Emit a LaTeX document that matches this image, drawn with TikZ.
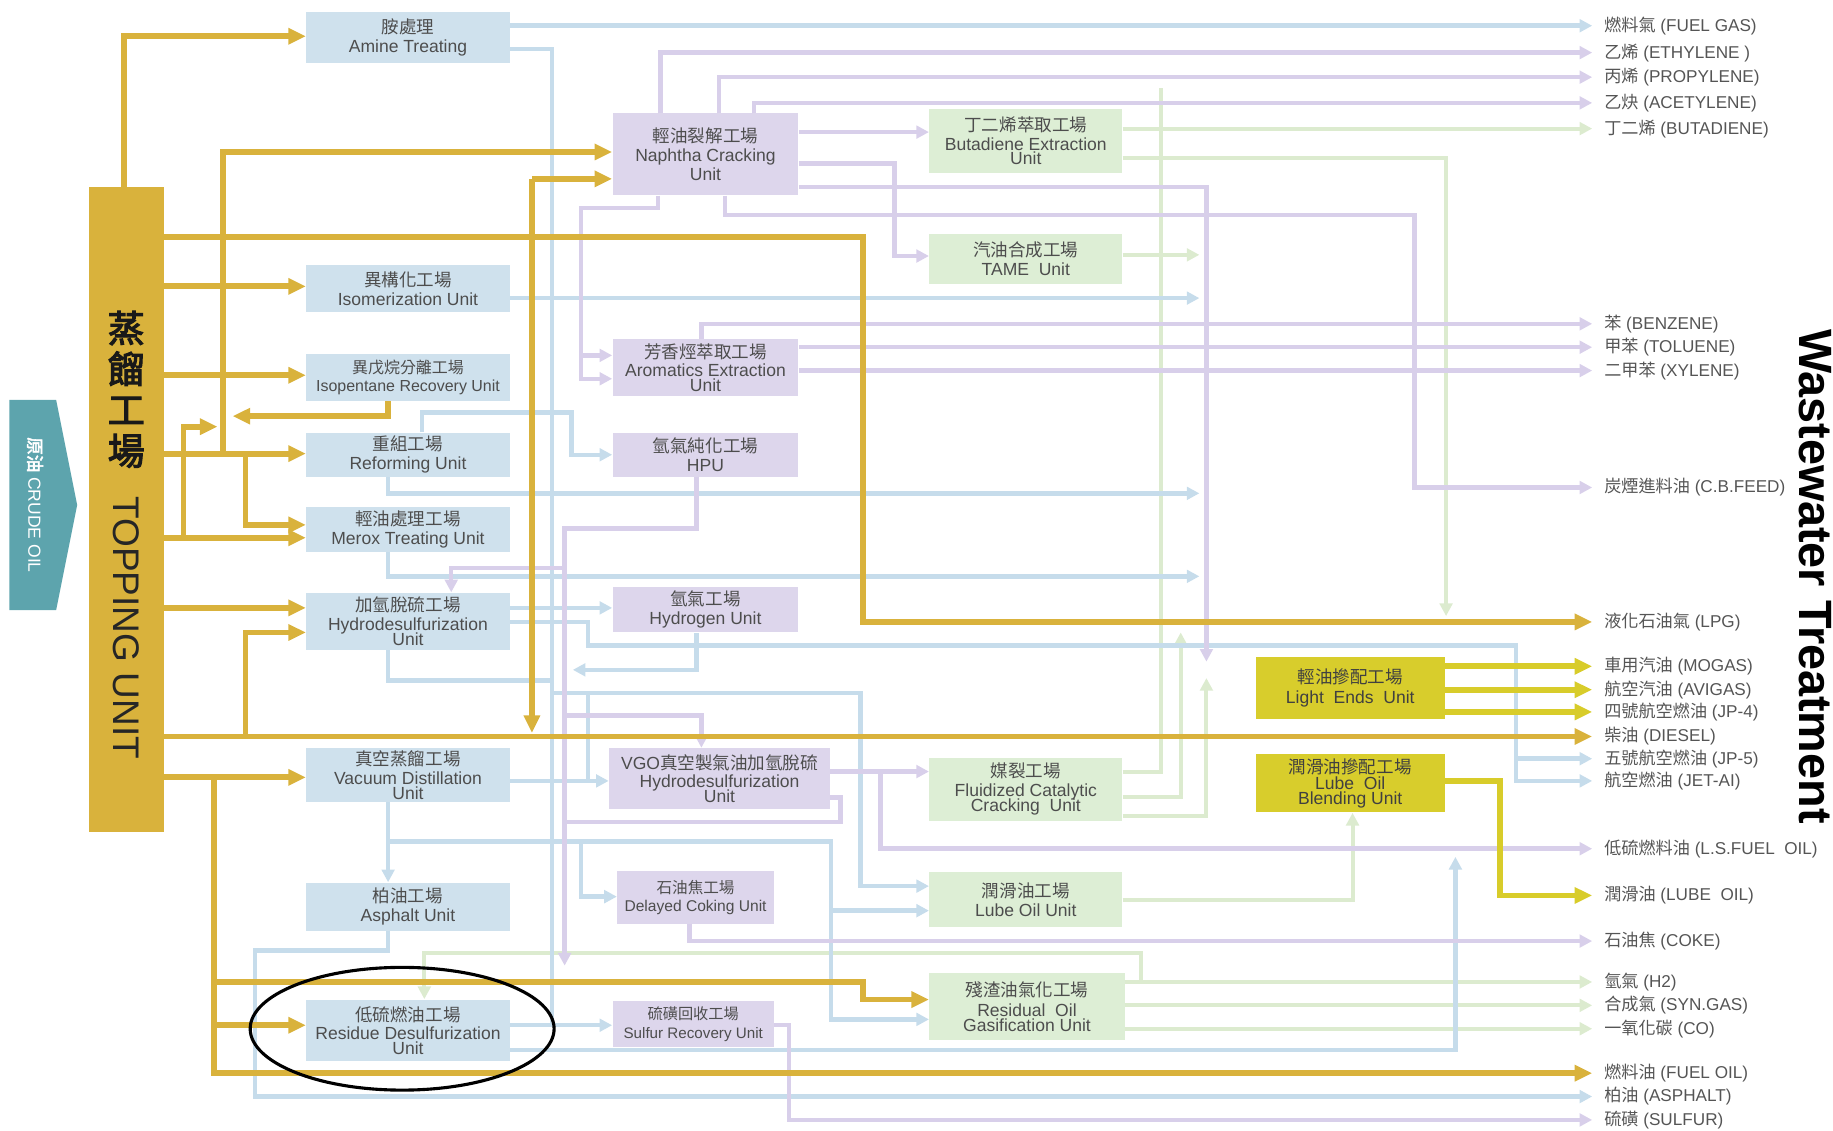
\documentclass[tikz,border=0pt]{standalone}
\usepackage{fontspec}
\setmainfont{Liberation Sans}
\newfontfamily\cj{Noto Sans CJK TC}
\newfontfamily\cjb[FakeBold=3]{Noto Sans CJK TC}
\usetikzlibrary{arrows.meta}
\definecolor{gold}{HTML}{D9B23C}
\definecolor{bluebox}{HTML}{CFE1ED}
\definecolor{purbox}{HTML}{DDD6EC}
\definecolor{grnbox}{HTML}{DDEED5}
\definecolor{ylwbox}{HTML}{D8CD2C}
\definecolor{blueln}{HTML}{C6DCEB}
\definecolor{lavln}{HTML}{D8CFEA}
\definecolor{grnln}{HTML}{DCEBCF}
\definecolor{ylwln}{HTML}{D8CC2A}
\definecolor{crudeteal}{HTML}{5DA4AD}
\definecolor{boxtxt}{HTML}{4D4D4D}
\definecolor{labtxt}{HTML}{555555}
\begin{document}
\begin{tikzpicture}[x=0.6pt,y=-0.6pt,
  box/.style={inner sep=0pt, align=center, text=boxtxt, font=\fontsize{9}{9.6}\selectfont},
  sz/.style 2 args={minimum width={#1*0.6pt}, minimum height={#2*0.6pt}},
  bb/.style={box, fill=bluebox},
  pb/.style={box, fill=purbox},
  gb/.style={box, fill=grnbox},
  yb/.style={box, fill=ylwbox, text=black!75},
  gl/.style={draw=gold, line width=3pt},
  bl/.style={draw=blueln, line width=2.3pt},
  lv/.style={draw=lavln, line width=2.3pt},
  gr/.style={draw=grnln, line width=2pt},
  yl/.style={draw=ylwln, line width=3pt},
  ga/.style={-{Triangle[length=9pt,width=8pt]}},
  la/.style={-{Triangle[length=6.5pt,width=6.5pt]}},
  lab/.style={anchor=west, inner xsep=6pt, inner ysep=0pt, text=labtxt, font=\fontsize{8.8}{9}\selectfont}]
\useasboundingbox (0,0) rectangle (1568,967);

% ---------- crude oil ----------
\fill[crudeteal] (8,342) -- (48,342) -- (66,432) -- (48,522) -- (8,522) -- cycle;
\node[rotate=-90, text=white, font=\fontsize{9}{9}\selectfont] (crude) at (30,432) {{\cjb 原油}\ CRUDE OIL};

% ---------- topping unit ----------
\node[fill=gold, sz={64}{552}, inner sep=0pt] (top) at (108,436) {};
\node[align=center, font=\fontsize{19}{21}\selectfont\cjb, text=black!90] (topcj) at (108,333) {蒸\\餾\\工\\場};
\node[rotate=-90, font=\fontsize{19}{19}\selectfont, text=black!85] (topen) at (108,537) {TOPPING UNIT};

% ---------- blue boxes ----------
\node[bb, sz={174}{44}] (amine) at (349,32) {{\cj 胺處理}\\Amine Treating};
\node[bb, sz={174}{40}] (isom) at (349,247) {{\cj 異構化工場}\\Isomerization Unit};
\node[bb, sz={174}{40}, font=\fontsize{8.2}{9.4}\selectfont] (isop) at (349,323) {{\cj 異戊烷分離工場}\\Isopentane Recovery Unit};
\node[bb, sz={174}{38}] (reform) at (349,389) {{\cj 重組工場}\\Reforming Unit};
\node[bb, sz={174}{38}] (merox) at (349,453) {{\cj 輕油處理工場}\\Merox Treating Unit};
\node[bb, sz={174}{49}] (hds) at (349,531.5) {{\cj 加氫脫硫工場}\\Hydrodesulfurization\\[-2pt]Unit};
\node[bb, sz={174}{46}] (vac) at (349,663) {{\cj 真空蒸餾工場}\\Vacuum Distillation\\[-2pt]Unit};
\node[bb, sz={174}{41}] (asph) at (349,775.5) {{\cj 柏油工場}\\Asphalt Unit};
\node[bb, sz={174}{53}] (rds) at (349,881.5) {{\cj 低硫燃油工場}\\Residue Desulfurization\\[-2pt]Unit};

% ---------- purple boxes ----------
\node[pb, sz={159}{70}] (naph) at (603.5,132) {{\cj 輕油裂解工場}\\Naphtha Cracking\\Unit};
\node[pb, sz={159}{49}] (arom) at (603.5,314.5) {{\cj 芳香烴萃取工場}\\Aromatics Extraction\\[-2pt]Unit};
\node[pb, sz={159}{38}] (hpu) at (603.5,389) {{\cj 氫氣純化工場}\\HPU};
\node[pb, sz={159}{39}] (h2u) at (603.5,521.5) {{\cj 氫氣工場}\\Hydrogen Unit};
\node[pb, sz={189}{52}] (vgo) at (615.5,666) {VGO{\cj 真空製氣油加氫脫硫}\\Hydrodesulfurization\\[-2pt]Unit};
\node[pb, sz={134}{45}, font=\fontsize{8}{9.4}\selectfont] (dcu) at (595,767.5) {{\cj 石油焦工場}\\Delayed Coking Unit};
\node[pb, sz={138}{40}, font=\fontsize{7.8}{9.4}\selectfont] (sru) at (593,876) {{\cj 硫磺回收工場}\\Sulfur Recovery Unit};

% ---------- green boxes ----------
\node[gb, sz={165}{55}] (bde) at (877.5,120.5) {{\cj 丁二烯萃取工場}\\Butadiene Extraction\\[-2pt]Unit};
\node[gb, sz={165}{43}] (tame) at (877.5,221.5) {{\cj 汽油合成工場}\\TAME\ \ Unit};
\node[gb, sz={165}{54}] (fcc) at (877.5,675) {{\cj 媒裂工場}\\Fluidized Catalytic\\[-2pt]Cracking\ \ Unit};
\node[gb, sz={165}{47}] (lube) at (877.5,769.5) {{\cj 潤滑油工場}\\Lube Oil Unit};
\node[gb, sz={167}{58}] (rog) at (878.5,861) {{\cj 殘渣油氣化工場}\\[1pt]Residual\ \ Oil\\[-2pt]Gasification Unit};

% ---------- yellow boxes ----------
\node[yb, sz={162}{53}] (le) at (1155,588.5) {{\cj 輕油摻配工場}\\[1pt]Light\ \ Ends\ \ Unit};
\node[yb, sz={162}{50}] (lob) at (1155,670) {{\cj 潤滑油摻配工場}\\[-1pt]Lube\ \ Oil\\[-2pt]Blending Unit};

% ---------- product labels ----------
\node[lab] (fuelgas) at (1362,22) {{\cj 燃料氣} (FUEL GAS)};
\node[lab] (ethylene) at (1362,45) {{\cj 乙烯} (ETHYLENE )};
\node[lab] (propylene) at (1362,66) {{\cj 丙烯} (PROPYLENE)};
\node[lab] (acetylene) at (1362,88) {{\cj 乙炔} (ACETYLENE)};
\node[lab] (butadiene) at (1362,110) {{\cj 丁二烯} (BUTADIENE)};
\node[lab] (benzene) at (1362,277) {{\cj 苯} (BENZENE)};
\node[lab] (toluene) at (1362,297) {{\cj 甲苯} (TOLUENE)};
\node[lab] (xylene) at (1362,317) {{\cj 二甲苯} (XYLENE)};
\node[lab] (cbfeed) at (1362,417) {{\cj 炭煙進料油} (C.B.FEED)};
\node[lab] (lpg) at (1362,532) {{\cj 液化石油氣} (LPG)};
\node[lab] (mogas) at (1362,570) {{\cj 車用汽油} (MOGAS)};
\node[lab] (avigas) at (1362,590) {{\cj 航空汽油} (AVIGAS)};
\node[lab] (jp4) at (1362,609) {{\cj 四號航空燃油} (JP-4)};
\node[lab] (diesel) at (1362,630) {{\cj 柴油} (DIESEL)};
\node[lab] (jp5) at (1362,649) {{\cj 五號航空燃油} (JP-5)};
\node[lab] (jetai) at (1362,668) {{\cj 航空燃油} (JET-AI)};
\node[lab] (lsfuel) at (1362,726) {{\cj 低硫燃料油} (L.S.FUEL\ \ OIL)};
\node[lab] (lubeoil) at (1362,766) {{\cj 潤滑油} (LUBE\ \ OIL)};
\node[lab] (coke) at (1362,805) {{\cj 石油焦} (COKE)};
\node[lab] (h2) at (1362,840) {{\cj 氫氣} (H2)};
\node[lab] (syngas) at (1362,860) {{\cj 合成氣} (SYN.GAS)};
\node[lab] (co) at (1362,880) {{\cj 一氧化碳} (CO)};
\node[lab] (fueloil) at (1362,918) {{\cj 燃料油} (FUEL OIL)};
\node[lab] (asphalt) at (1362,938) {{\cj 柏油} (ASPHALT)};
\node[lab] (sulfur) at (1362,958) {{\cj 硫磺} (SULFUR)};

\node[rotate=-90, font=\bfseries\fontsize{24}{24}\selectfont] (wwt) at (1553,493) {Wastewater Treatment};

% ---------- green lines ----------
\draw[gr,la] (bde.east |- 0,110) -- (butadiene.west);
\draw[gr,la] (bde.east |- 0,135) -- (1237,135) -- (1237,527);
\draw[gr,la] (tame.east |- 0,218) -- (1026,218);
\draw[gr] (fcc.east |- 0,660) -- (993,660) -- (993,75);
\draw[gr,la] (fcc.east |- 0,682) -- (1010,682) -- (1010,541);
\draw[gr,la] (fcc.east |- 0,698) -- (1032,698) -- (1032,580);
\draw[gr,la] (lube.east |- 0,770) -- (1157,770) -- (lob.south -| 1157,0);
\draw[gr,la] (rog.east |- 0,840) -- (h2.west);
\draw[gr,la] (rog.east |- 0,860) -- (syngas.west);
\draw[gr,la] (rog.east |- 0,880) -- (co.west);
\draw[gr,la] (976,840) -- (976,815) -- (363,815) -- (rds.north -| 363,0);

% ---------- blue lines ----------
\draw[bl,la] (amine.east |- 0,22) -- (fuelgas.west);
\draw[bl] (amine.east |- 0,42) -- (472,42) -- (472,877);
\draw[bl,la] (isom.east |- 0,255) -- (1026,255);
\draw[bl,la] (reform.north -| 361,0) -- (361,353) -- (489,353) -- (489,389) -- (hpu.west |- 0,389);
\draw[bl,la] (reform.south -| 332,0) -- (332,422) -- (1026,422);
\draw[bl,la] (merox.south -| 332,0) -- (332,493) -- (1026,493);
\draw[bl,la] (hds.east |- 0,520) -- (h2u.west |- 0,520);
\draw[bl,la] (hds.east |- 0,532) -- (503,532) -- (503,552) -- (1297,552) -- (1297,668) -- (jetai.west);
\draw[bl,la] (1297,649) -- (jp5.west);
\draw[bl] (hds.south -| 332,0) -- (332,582) -- (472,582);
\draw[bl,la] (h2u.south -| 596,0) -- (596,573) -- (490,573);
\draw[bl,la] (472,593) -- (736,593) -- (736,758) -- (lube.west |- 0,758);
\draw[bl] (503,593) -- (503,668);
\draw[bl,la] (vac.east |- 0,668) -- (vgo.west |- 0,668);
\draw[bl,la] (vac.south -| 332,0) -- (asph.north -| 332,0);
\draw[bl,la] (332,720) -- (711,720) -- (711,872) -- (rog.west |- 0,872);
\draw[bl,la] (711,779) -- (lube.west |- 0,779);
\draw[bl,la] (497,720) -- (497,767) -- (dcu.west |- 0,767);
\draw[bl,la] (asph.south -| 332,0) -- (332,813) -- (218,813) -- (218,938) -- (asphalt.west);
\draw[bl,la] (rds.east |- 0,877) -- (sru.west |- 0,877);
\draw[bl,la] (rds.east |- 0,898) -- (1245,898) -- (1245,733);

% ---------- lavender lines ----------
\draw[lv,la] (naph.north -| 565,0) -- (565,45) -- (ethylene.west);
\draw[lv,la] (naph.north -| 615,0) -- (615,66) -- (propylene.west);
\draw[lv,la] (naph.north -| 645,0) -- (645,88) -- (acetylene.west);
\draw[lv,la] (naph.east |- 0,113) -- (bde.west |- 0,113);
\draw[lv,la] (naph.east |- 0,140) -- (765,140) -- (765,219) -- (tame.west |- 0,219);
\draw[lv,la] (naph.east |- 0,160) -- (1032,160) -- (1032,566);
\draw[lv,la] (naph.south -| 620,0) -- (620,184) -- (1210,184) -- (1210,417) -- (cbfeed.west);
\draw[lv,la] (naph.south -| 563,0) -- (563,178) -- (497,178) -- (497,324) -- (arom.west |- 0,324);
\draw[lv,la] (497,304) -- (arom.west |- 0,304);
\draw[lv,la] (arom.north -| 600,0) -- (600,277) -- (benzene.west);
\draw[lv,la] (arom.east |- 0,297) -- (toluene.west);
\draw[lv,la] (arom.east |- 0,317) -- (xylene.west);
\draw[lv,la] (hpu.south -| 596,0) -- (596,452) -- (483,452) -- (483,826);
\draw[lv,la] (483,486) -- (386,486) -- (hds.north -| 386,0);
\draw[lv,la] (483,612) -- (600,612) -- (vgo.north -| 600,0);
\draw[lv,la] (vgo.east |- 0,660) -- (fcc.west |- 0,660);
\draw[lv,la] (753,660) -- (753,726) -- (lsfuel.west);
\draw[lv] (vgo.east |- 0,682) -- (719,682) -- (719,703) -- (483,703);
\draw[lv,la] (dcu.south -| 590,0) -- (590,805) -- (coke.west);
\draw[lv,la] (sru.east |- 0,877) -- (675,877) -- (675,958) -- (sulfur.west);

% ---------- yellow lines ----------
\draw[yl,ga] (le.east |- 0,570) -- (mogas.west);
\draw[yl,ga] (le.east |- 0,590) -- (avigas.west);
\draw[yl,ga] (le.east |- 0,609) -- (jp4.west);
\draw[yl,ga] (lob.east |- 0,668) -- (1283,668) -- (1283,766) -- (lubeoil.west);

% ---------- gold lines ----------
\draw[gl,ga] (top.north -| 106,0) -- (106,31) -- (amine.west |- 0,31);
\draw[gl,ga] (191,388) -- (191,130) -- (naph.west |- 0,130);
\draw[gl,ga] (top.east |- 0,203) -- (738,203) -- (738,532) -- (lpg.west);
\draw[gl,ga] (top.east |- 0,245) -- (isom.west |- 0,245);
\draw[gl,ga] (top.east |- 0,321) -- (isop.west |- 0,321);
\draw[gl,ga] (isop.south -| 332,0) -- (332,356) -- (199,356);
\draw[gl,ga] (157,460) -- (157,365) -- (186,365);
\draw[gl,ga] (top.east |- 0,388) -- (reform.west |- 0,388);
\draw[gl,ga] (210,388) -- (210,449) -- (merox.west |- 0,449);
\draw[gl,ga] (top.east |- 0,460) -- (merox.west |- 0,460);
\draw[gl,ga] (top.east |- 0,520) -- (hds.west |- 0,520);
\draw[gl,ga] (210,630) -- (210,541) -- (hds.west |- 0,541);
\draw[gl,ga] (top.east |- 0,630) -- (diesel.west);
\draw[gl,ga] (455,153) -- (naph.west |- 0,153);
\draw[gl,ga] (455,153) -- (455,627);
\draw[gl,ga] (top.east |- 0,665) -- (vac.west |- 0,665);
\draw[gl,ga] (183,665) -- (183,918) -- (fueloil.west);
\draw[gl,ga] (183,840) -- (738,840) -- (738,855) -- (rog.west |- 0,855);
\draw[gl,ga] (183,877) -- (rds.west |- 0,877);

% ---------- highlight ----------
\draw[line width=1.6pt] (344,880) ellipse [x radius=78pt, y radius=31.5pt];
\end{tikzpicture}
\end{document}
